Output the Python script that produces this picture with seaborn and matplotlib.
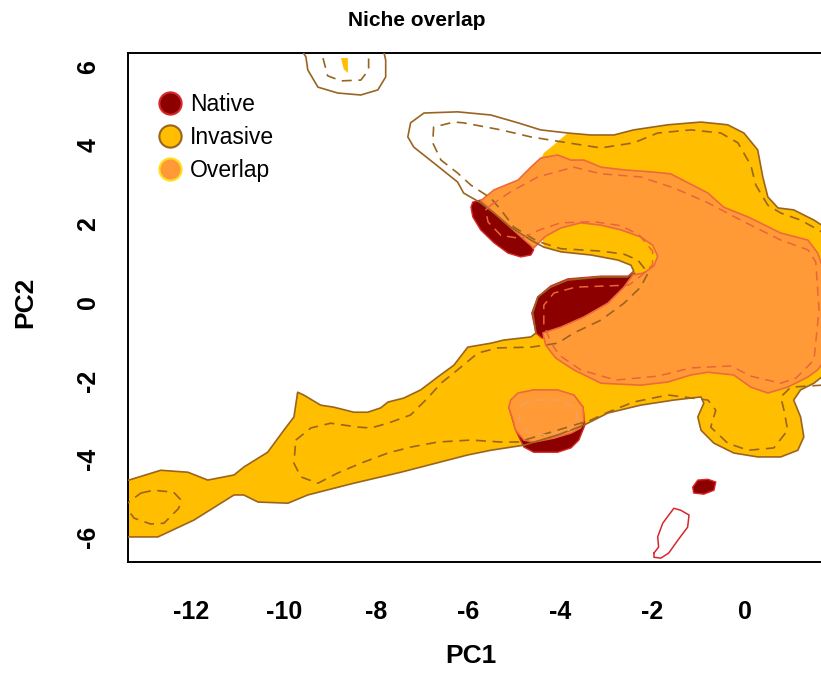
import numpy as np
import pandas as pd
import matplotlib
matplotlib.use("Agg")
import matplotlib.pyplot as plt
import seaborn as sns
from matplotlib.lines import Line2D

sns.set_theme(style="white")
plt.rcParams["font.family"] = ["Liberation Sans", "DejaVu Sans"]
plt.rcParams["axes.unicode_minus"] = False
plt.rcParams["text.color"] = "black"
plt.rcParams["axes.labelcolor"] = "black"
plt.rcParams["xtick.color"] = "black"
plt.rcParams["ytick.color"] = "black"

# ---- niche contours in PC space (PC1, PC2) ----
# invasive environment, lower part (band + mouth)
inv_lower = [(-13.7, -6.0), (-13.7, -4.55), (-13.36, -4.54), (-12.67, -4.29), (-12.08, -4.34),
             (-11.65, -4.54), (-11.08, -4.41), (-10.87, -4.21), (-10.35, -3.83), (-10.00, -3.27),
             (-9.78, -2.93), (-9.70, -2.30), (-9.57, -2.37), (-9.20, -2.63), (-8.92, -2.68),
             (-8.48, -2.81), (-8.18, -2.81), (-7.90, -2.70), (-7.74, -2.55), (-7.40, -2.45),
             (-7.03, -2.24), (-6.66, -1.91), (-6.31, -1.61), (-6.01, -1.15), (-5.51, -1.05),
             (-5.23, -0.97), (-4.64, -0.89), (-4.53, -0.79), (-4.60, -0.28), (-4.49, 0.13),
             (-4.21, 0.38), (-3.84, 0.56), (-3.12, 0.64), (-2.54, 0.64), (-2.41, 0.79),
             (-2.47, 0.94), (-2.75, 1.07), (-3.34, 1.20), (-3.99, 1.28), (-4.36, 1.40)]
# unoccupied pocket of the invasive environment (upper left)
inv_pocket = [(-4.64, 1.58), (-5.08, 1.91), (-5.44, 2.27), (-5.73, 2.53), (-6.10, 2.78),
              (-6.23, 3.06), (-6.75, 3.55), (-7.18, 3.95), (-7.31, 4.21), (-7.25, 4.57),
              (-6.96, 4.82), (-6.23, 4.85), (-5.51, 4.77), (-4.92, 4.57), (-4.43, 4.39)]
# edge of occupied invasive niche next to the pocket
inv_fill_edge = [(-4.43, 1.96), (-4.49, 3.49), (-4.36, 3.80), (-4.14, 4.01)]
# invasive environment, upper/right part and lower edge
inv_upper = [(-3.84, 4.31), (-3.34, 4.26), (-2.84, 4.26), (-2.41, 4.39), (-1.67, 4.52),
             (-0.95, 4.59), (-0.37, 4.52), (-0.02, 4.31), (0.28, 3.88), (0.39, 3.19),
             (0.50, 2.68), (0.72, 2.40), (1.06, 2.35), (1.50, 2.09), (1.67, 1.96),
             (2.1, 1.6), (2.2, 0.0), (2.1, -1.8), (1.67, -1.91), (1.50, -2.07),
             (1.21, -2.24), (1.06, -2.50), (1.21, -2.93), (1.28, -3.44), (1.15, -3.78),
             (0.78, -3.95), (0.28, -3.95), (-0.24, -3.85), (-0.67, -3.60), (-0.95, -3.27),
             (-1.02, -2.93), (-0.89, -2.58), (-0.95, -2.42), (-1.54, -2.50), (-2.26, -2.63),
             (-2.97, -2.83), (-3.49, -3.14), (-4.06, -3.39), (-4.79, -3.65), (-5.51, -3.78),
             (-6.01, -3.90), (-7.46, -4.34), (-8.48, -4.62), (-9.48, -4.92), (-9.91, -5.13),
             (-10.56, -5.10), (-10.87, -4.92), (-11.08, -4.92), (-11.95, -5.56),
             (-12.73, -5.99), (-13.36, -5.99)]
# small invasive patch at the top
inv_top_outline = [(-9.63, 6.45), (-9.52, 6.25), (-9.48, 5.92), (-9.26, 5.48), (-8.83, 5.33),
                   (-8.33, 5.28), (-7.96, 5.41), (-7.79, 5.74), (-7.79, 6.17), (-7.85, 6.48)]
inv_top_fill = [(-8.76, 6.22), (-8.61, 6.22), (-8.61, 5.84), (-8.70, 5.94)]
inv_top_dash = [(-9.15, 6.22), (-9.05, 5.77), (-8.76, 5.64), (-8.33, 5.66), (-8.16, 5.92),
                (-8.16, 6.30)]
# invasive 50% environment contour
inv_dash = [(-9.74, -3.52), (-9.41, -3.21), (-8.98, -3.09), (-8.39, -3.19), (-8.11, -3.21),
            (-7.74, -3.09), (-7.25, -2.88), (-6.88, -2.45), (-6.59, -2.07), (-6.23, -1.73),
            (-5.79, -1.30), (-5.36, -1.17), (-4.64, -1.15), (-4.06, -1.05), (-3.71, -0.79),
            (-3.12, -0.46), (-2.62, -0.03), (-2.26, 0.38), (-2.10, 0.74), (-2.32, 1.07),
            (-2.62, 1.22), (-3.12, 1.30), (-3.99, 1.36), (-4.50, 1.55), (-5.01, 1.91),
            (-5.29, 2.35), (-5.51, 2.65), (-5.94, 2.98), (-6.23, 3.29), (-6.59, 3.62),
            (-6.77, 4.06), (-6.75, 4.46), (-6.31, 4.59), (-6.10, 4.57), (-5.29, 4.39),
            (-4.64, 4.21), (-3.84, 4.06), (-3.12, 3.93), (-2.41, 4.06), (-1.89, 4.31),
            (-1.17, 4.39), (-0.52, 4.31), (-0.15, 4.06), (0.13, 3.49), (0.24, 2.98),
            (0.50, 2.47), (0.78, 2.27), (1.21, 2.09), (1.67, 1.79), (1.9, 1.0),
            (1.9, -1.5), (1.67, -2.12), (1.00, -2.17), (0.78, -2.42), (0.85, -2.76),
            (0.93, -3.27), (0.63, -3.72), (0.07, -3.78), (-0.37, -3.60), (-0.74, -3.19),
            (-0.63, -2.76), (-0.80, -2.50), (-1.67, -2.37), (-2.41, -2.55), (-2.97, -2.81),
            (-3.34, -3.01), (-4.21, -3.32), (-4.92, -3.57), (-5.29, -3.57), (-5.94, -3.52),
            (-6.66, -3.57), (-7.25, -3.70), (-7.74, -3.85), (-8.33, -4.11), (-8.83, -4.36),
            (-9.26, -4.62), (-9.63, -4.46), (-9.78, -4.11)]
inv_dash_left = [(-13.10, -4.87), (-12.82, -4.80), (-12.39, -4.85), (-12.23, -5.05),
                 (-12.28, -5.26), (-12.60, -5.64), (-12.89, -5.66), (-13.25, -5.51),
                 (-13.45, -5.18)]

# native-only occupancy
native_arm = [(-5.94, 2.42), (-5.90, 2.17), (-5.73, 1.84), (-5.44, 1.51), (-5.14, 1.25),
              (-4.86, 1.15), (-4.64, 1.20), (-4.58, 1.33), (-4.86, 1.84), (-5.40, 2.47),
              (-5.73, 2.60), (-5.90, 2.55)]
native_lobe = [(-2.39, 0.74), (-2.54, 0.66), (-3.12, 0.66), (-3.84, 0.59), (-4.21, 0.41),
               (-4.49, 0.13), (-4.62, -0.28), (-4.53, -0.79), (-4.40, -0.92), (-3.99, -0.84),
               (-3.34, -0.51), (-2.73, 0.05), (-2.34, 0.56)]
native_spot = [(-5.12, -2.68), (-4.97, -3.27), (-4.79, -3.70), (-4.58, -3.83), (-4.06, -3.83),
               (-3.77, -3.72), (-3.60, -3.52), (-3.47, -3.14), (-3.51, -2.68), (-3.71, -2.37),
               (-4.58, -2.24)]
native_blob = [(-1.13, -4.72), (-1.02, -4.54), (-0.80, -4.52), (-0.63, -4.59), (-0.67, -4.80),
               (-0.89, -4.90), (-1.11, -4.87)]
native_env_low = [(-1.97, -6.40), (-1.87, -6.25), (-1.89, -5.99), (-1.78, -5.64), (-1.54, -5.26),
                  (-1.39, -5.31), (-1.21, -5.43), (-1.24, -5.74), (-1.45, -6.07), (-1.65, -6.40),
                  (-1.82, -6.53), (-1.97, -6.51)]
native_dash = [(-5.51, 2.47), (-5.08, 2.81), (-4.49, 3.19), (-3.71, 3.44), (-3.12, 3.27),
               (-2.26, 3.19), (-1.54, 2.91), (-0.80, 2.53), (-0.09, 2.09), (0.78, 1.58),
               (1.37, 1.33), (1.54, 1.02), (1.61, -0.20), (1.50, -1.48), (1.11, -1.94),
               (0.78, -2.07), (0.13, -1.89), (-0.30, -1.63), (-1.17, -1.68), (-1.89, -1.89),
               (-2.80, -1.99), (-3.56, -1.73), (-4.03, -1.35), (-4.21, -1.02), (-4.36, -0.59),
               (-4.36, -0.08), (-4.14, 0.23), (-3.67, 0.38), (-3.02, 0.41), (-2.52, 0.43),
               (-2.26, 0.66), (-2.00, 0.95), (-2.00, 1.30), (-2.30, 1.72), (-2.70, 1.95),
               (-3.28, 2.05), (-3.99, 2.02), (-4.43, 1.85), (-4.86, 1.62), (-5.29, 1.70),
               (-5.57, 2.04), (-5.62, 2.35)]
native_dash_ring = [(-4.86, -2.63), (-4.64, -2.50), (-3.99, -2.50), (-3.67, -2.70), (-3.62, -3.01),
                    (-3.82, -3.27), (-4.32, -3.39), (-4.71, -3.32), (-4.90, -3.01)]

# overlap (stability) of native and invasive niches
overlap_main = [(-5.73, 2.58), (-5.44, 2.86), (-4.92, 3.11), (-4.64, 3.44), (-4.43, 3.67),
                (-4.06, 3.75), (-3.77, 3.62), (-3.49, 3.62), (-3.12, 3.44), (-2.62, 3.37),
                (-2.04, 3.32), (-1.61, 3.27), (-0.80, 2.78), (-0.46, 2.42), (0.07, 2.17),
                (0.78, 1.76), (1.37, 1.58), (1.58, 1.25), (1.69, 0.89), (1.85, 0.5),
                (1.85, -1.3), (1.58, -1.73), (1.37, -1.91), (0.93, -2.17), (0.50, -2.32),
                (0.13, -2.17), (-0.24, -1.86), (-0.80, -1.79), (-1.17, -1.86), (-1.67, -2.04),
                (-2.26, -2.12), (-3.12, -2.07), (-3.71, -1.73), (-4.10, -1.43), (-4.32, -1.10),
                (-4.38, -0.79), (-3.99, -0.64), (-3.49, -0.38), (-2.97, -0.03), (-2.62, 0.38),
                (-2.43, 0.69), (-2.19, 0.74), (-1.97, 0.92), (-1.89, 1.17), (-2.00, 1.45),
                (-2.26, 1.66), (-2.69, 1.84), (-3.12, 1.96), (-3.56, 2.02), (-3.99, 1.89),
                (-4.32, 1.68), (-4.58, 1.38)]
overlap_spot = [(-5.08, -2.50), (-4.92, -2.32), (-4.58, -2.24), (-4.06, -2.24), (-3.71, -2.37),
                (-3.51, -2.68), (-3.49, -3.01), (-3.56, -3.21), (-3.77, -3.34), (-4.14, -3.47),
                (-4.58, -3.57), (-4.79, -3.52), (-4.97, -3.27), (-5.03, -3.01), (-5.12, -2.68)]

legend_labels = ["Native", "Invasive", "Overlap"]
xtick_vals = [-12, -10, -8, -6, -4, -2, 0]
ytick_vals = [-6, -4, -2, 0, 2, 4, 6]

# colours
c_native, c_native_edge = "#8C0000", "#D8262B"
c_inv, c_inv_line = "#FFBE00", "#9A6420"
c_over, c_over_edge = "#FF9A36", "#EE6A3C"
c_nat_dash = "#E8653C"

fig = plt.figure(figsize=(8.21, 6.73), dpi=100)
ax = fig.add_axes([0.1559, 0.1649, 0.8636, 0.7563])
ax.set_xlim(-13.38, 2.0)
ax.set_ylim(-6.63, 6.35)


def fill(pts, face, edge="none", lw=0.0, z=1):
    p = np.asarray(pts)
    ax.fill(p[:, 0], p[:, 1], facecolor=face, edgecolor=edge, lw=lw, zorder=z,
            joinstyle="round")


def contour(pts, color, lw=1.1, dash=None, closed=True, z=4):
    p = np.asarray(pts)
    if closed:
        p = np.vstack([p, p[:1]])
    df = pd.DataFrame({"PC1": p[:, 0], "PC2": p[:, 1]})
    kw = {}
    if dash is not None:
        kw["linestyle"] = (0, dash)
    sns.lineplot(data=df, x="PC1", y="PC2", sort=False, estimator=None, color=color,
                 lw=lw, ax=ax, zorder=z, solid_joinstyle="round", **kw)


# occupied invasive niche
fill(inv_lower + inv_fill_edge + inv_upper, c_inv, z=1)
fill(inv_top_fill, c_inv, z=1)
# native-only niche
for shape in (native_arm, native_lobe, native_spot, native_blob):
    fill(shape, c_native, edge=c_native_edge, lw=1.0, z=2)
# overlap
for shape in (overlap_main, overlap_spot):
    fill(shape, c_over, edge=c_over_edge, lw=1.2, z=3)

# environment contours
contour(inv_lower + inv_pocket + inv_upper, c_inv_line, lw=1.2)
contour(inv_top_outline, c_inv_line, lw=1.2, closed=False)
contour(inv_top_dash, c_inv_line, lw=1.2, dash=(6, 4), closed=False)
contour(inv_dash, c_inv_line, lw=1.2, dash=(6, 4))
contour(inv_dash_left, c_inv_line, lw=1.2, dash=(6, 4))
contour(native_env_low, c_native_edge, lw=1.1)
contour(native_dash, c_nat_dash, lw=1.1, dash=(6, 4))
contour(native_dash_ring, "#F4A060", lw=1.1, dash=(6, 4))

# axes styling
for s in ax.spines.values():
    s.set_color("black")
    s.set_linewidth(1.4)
ax.set_xticks(xtick_vals)
ax.set_xticklabels([str(v) for v in xtick_vals], fontsize=18, fontweight="bold")
ax.set_yticks(ytick_vals)
ax.set_yticklabels([str(v) for v in ytick_vals], fontsize=18, fontweight="bold",
                   rotation=90, va="center")
ax.tick_params(axis="both", direction="out", length=13, width=1.3, color="black",
               labelcolor="black")
ax.tick_params(axis="x", pad=14)
ax.tick_params(axis="y", pad=7)

ax.set_xlabel("PC1", fontsize=19, fontweight="bold", color="black")
ax.set_ylabel("PC2", fontsize=19, fontweight="bold", color="black")
ax.xaxis.set_label_coords(0.483, -0.185)
ax.yaxis.set_label_coords(-0.1455, 0.51)
ax.xaxis.label.set_va("center")
ax.yaxis.label.set_va("center")

fig.text(417 / 821, 1 - 20 / 673, "Niche overlap", fontsize=15, fontweight="bold",
         ha="center", va="center", color="black")

handles = [
    Line2D([], [], marker="o", ls="none", markersize=16, markerfacecolor=c_native,
           markeredgecolor=c_native_edge, markeredgewidth=1.5),
    Line2D([], [], marker="o", ls="none", markersize=16, markerfacecolor=c_inv,
           markeredgecolor=c_inv_line, markeredgewidth=1.5),
    Line2D([], [], marker="o", ls="none", markersize=16, markerfacecolor=c_over,
           markeredgecolor="#FFE020", markeredgewidth=1.5),
]
leg = ax.legend(handles, legend_labels, loc="upper left",
                bbox_to_anchor=(159 / 821, 1 - 93 / 673),
                bbox_transform=fig.transFigure, frameon=False, fontsize=16.5,
                handlelength=1.0, handletextpad=0.35, labelspacing=0.43, borderpad=0,
                borderaxespad=0)
for t in leg.get_texts():
    t.set_color("black")

fig.savefig("out.png", dpi=100)
